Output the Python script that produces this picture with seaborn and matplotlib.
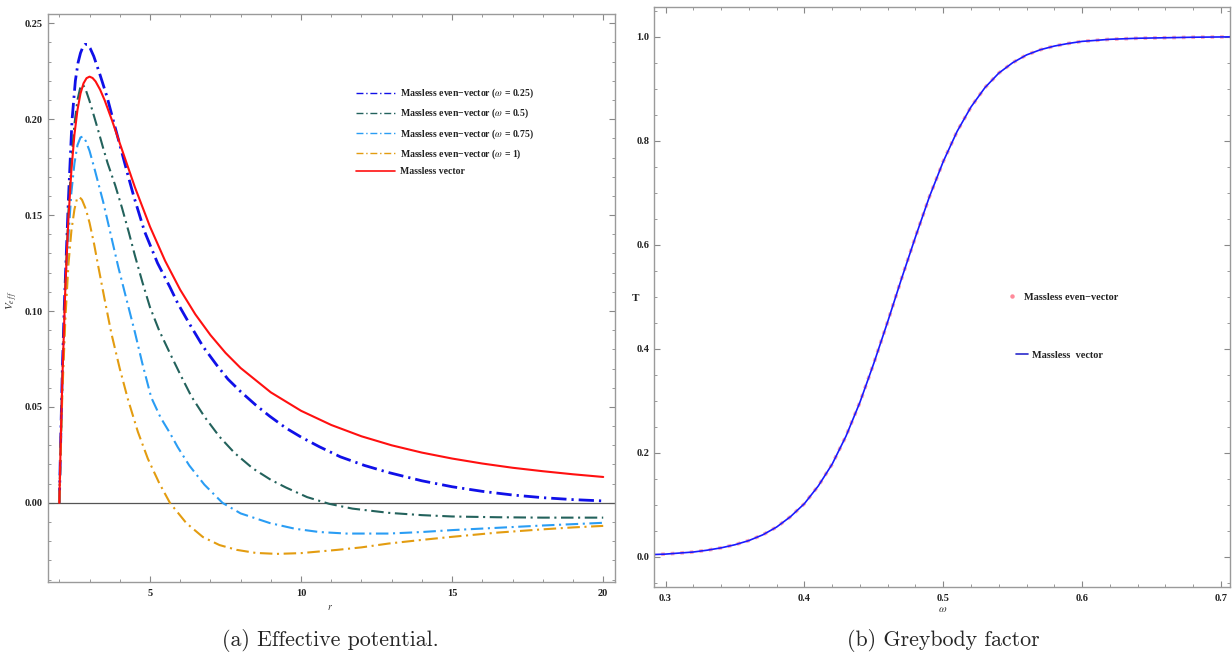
import numpy as np
import matplotlib
matplotlib.use('Agg')
import matplotlib.pyplot as plt
import seaborn as sns
from matplotlib.ticker import MultipleLocator, FormatStrFormatter
from matplotlib.lines import Line2D

# ---------------- data: (a) effective potential ----------------
r_vec = [2.0, 2.05, 2.1, 2.2, 2.3, 2.4, 2.5, 2.6, 2.7, 2.8, 2.9, 3.0, 3.1, 3.2, 3.35, 3.5,
         3.75, 4.0, 4.5, 5.0, 5.5, 6.0, 6.5, 7.0, 7.5, 8.0, 9.0, 10.0, 11.0, 12.0, 13.0, 14.0, 15.0,
         16.0, 17.0, 18.0, 19.0, 20.0]
v_vec = [0.0, 0.0348, 0.0648, 0.1127, 0.1479, 0.1736, 0.192, 0.2048, 0.2134, 0.2187, 0.2214,
         0.2222, 0.2215, 0.2197, 0.2154, 0.2099, 0.1991, 0.1875, 0.1646, 0.144, 0.1262, 0.1111,
         0.0983, 0.0875, 0.0782, 0.0703, 0.0576, 0.048, 0.0406, 0.0347, 0.0300, 0.0262, 0.0231,
         0.0205, 0.0183, 0.0165, 0.0149, 0.0135]

r_w025 = [2.0, 2.05, 2.1, 2.17, 2.3, 2.42, 2.53, 2.62, 2.7, 2.78, 2.85, 2.93, 3.02, 3.14, 3.35,
          3.58, 3.8, 4.02, 4.25, 4.46, 4.82, 5.25, 5.66, 5.92, 6.3, 6.76, 7.2, 7.58, 8.0, 8.5,
          8.96, 9.5, 10.0, 10.6, 11.3, 12.1, 12.9, 14.0, 15.0, 16.0, 17.0, 18.0, 19.0, 20.0]
v_w025 = [0.0, 0.036, 0.07, 0.105, 0.158, 0.1995, 0.220, 0.2295, 0.2345, 0.2377, 0.2390, 0.2390,
          0.2370, 0.2328, 0.2230, 0.2116, 0.1985, 0.1856, 0.172, 0.1600, 0.1415, 0.125, 0.1125,
          0.104, 0.0935, 0.0814, 0.0720, 0.0645, 0.0580, 0.0510, 0.0452, 0.0390, 0.0343, 0.0293,
          0.0240, 0.0195, 0.0158, 0.0115, 0.0084, 0.0060, 0.0041, 0.0027, 0.0017, 0.0010]

r_w05 = [2.0, 2.05, 2.1, 2.2, 2.3, 2.4, 2.5, 2.6, 2.7, 2.78, 2.86, 3.0, 3.15, 3.28, 3.45, 3.6,
         3.85, 4.07, 4.3, 4.5, 4.75, 5.0, 5.3, 5.66, 6.0, 6.37, 6.8, 7.3, 7.8, 8.4, 9.0, 9.5,
         10.2, 10.93, 11.7, 12.9, 14.0, 15.0, 16.5, 18.0, 20.0]
v_w05 = [0.0, 0.034, 0.066, 0.114, 0.151, 0.178, 0.1975, 0.2100, 0.2170, 0.2180, 0.2160, 0.2095,
         0.2015, 0.1945, 0.185, 0.177, 0.1655, 0.154, 0.141, 0.129, 0.115, 0.102, 0.090, 0.078,
         0.067, 0.0555, 0.045, 0.0345, 0.0260, 0.0180, 0.0120, 0.0080, 0.0030, -0.0005, -0.0030,
         -0.0052, -0.0064, -0.0071, -0.0075, -0.0077, -0.0077]

r_w075 = [2.0, 2.05, 2.1, 2.2, 2.3, 2.4, 2.5, 2.6, 2.7, 2.78, 2.88, 3.0, 3.15, 3.3, 3.45, 3.7,
          3.95, 4.2, 4.5, 4.75, 5.04, 5.35, 5.66, 5.92, 6.3, 6.8, 7.4, 8.0, 8.96, 9.8, 10.6,
          11.5, 12.9, 14.0, 15.0, 16.5, 18.0, 19.0, 20.0]
v_w075 = [0.0, 0.032, 0.062, 0.106, 0.139, 0.162, 0.177, 0.1865, 0.1905, 0.1910, 0.1885, 0.1835,
          0.175, 0.166, 0.157, 0.140, 0.123, 0.1075, 0.089, 0.0725, 0.0550, 0.0445, 0.0364,
          0.0290, 0.0195, 0.0095, 0.0, -0.0055, -0.0105, -0.0135, -0.0152, -0.0160, -0.0160,
          -0.0152, -0.0142, -0.0130, -0.0118, -0.0111, -0.0104]

r_w1 = [2.0, 2.05, 2.1, 2.2, 2.3, 2.4, 2.5, 2.58, 2.66, 2.75, 2.88, 3.0, 3.15, 3.28, 3.5, 3.72,
        4.0, 4.27, 4.6, 4.93, 5.3, 5.66, 6.2, 6.75, 7.3, 7.87, 8.5, 9.2, 10.0, 11.2, 12.0, 12.9,
        14.0, 15.0, 16.5, 18.0, 19.0, 20.0]
v_w1 = [0.0, 0.030, 0.057, 0.096, 0.124, 0.142, 0.153, 0.1583, 0.1595, 0.1580, 0.1530, 0.1460,
        0.1350, 0.1240, 0.1060, 0.0885, 0.0700, 0.0540, 0.0370, 0.0230, 0.0105, 0.0, -0.0105,
        -0.0178, -0.0220, -0.0245, -0.0261, -0.0266, -0.0262, -0.0245, -0.0232, -0.0212, -0.0193,
        -0.0177, -0.0155, -0.0138, -0.0128, -0.0120]

labels_a = ["Massless even\u2212vector ($\\omega$ = 0.25)",
            "Massless even\u2212vector ($\\omega$ = 0.5)",
            "Massless even\u2212vector ($\\omega$ = 0.75)",
            "Massless even\u2212vector ($\\omega$ = 1)",
            "Massless vector"]

# ---------------- data: (b) greybody factor ----------------
omega = [0.29, 0.30, 0.31, 0.32, 0.33, 0.34, 0.35, 0.36, 0.37, 0.38, 0.39, 0.40, 0.41, 0.42,
         0.43, 0.44, 0.45, 0.46, 0.47, 0.48, 0.49, 0.50, 0.51, 0.52, 0.53, 0.54, 0.55, 0.56,
         0.57, 0.58, 0.59, 0.60, 0.61, 0.62, 0.64, 0.66, 0.68, 0.70, 0.72]
T_vec = [0.004, 0.005, 0.007, 0.009, 0.0125, 0.017, 0.023, 0.031, 0.042, 0.057, 0.077, 0.102,
         0.136, 0.178, 0.232, 0.297, 0.372, 0.452, 0.535, 0.615, 0.692, 0.760, 0.818, 0.865,
         0.902, 0.930, 0.950, 0.965, 0.975, 0.982, 0.987, 0.991, 0.993, 0.995, 0.997, 0.998,
         0.999, 0.9995, 1.0]
T_even = [0.004, 0.005, 0.007, 0.009, 0.0125, 0.017, 0.023, 0.031, 0.042, 0.057, 0.077, 0.102,
          0.136, 0.178, 0.232, 0.297, 0.372, 0.452, 0.535, 0.615, 0.692, 0.760, 0.818, 0.865,
          0.902, 0.930, 0.950, 0.965, 0.975, 0.982, 0.987, 0.991, 0.993, 0.995, 0.997, 0.998,
          0.999, 0.9995, 1.0]
labels_b = ["Massless even\u2212vector", "Massless  vector"]

# ---------------- style ----------------
sns.set_style('ticks')
plt.rcParams['font.family'] = ['Liberation Serif', 'DejaVu Serif']
plt.rcParams['mathtext.fontset'] = 'stix'

W, H = 1232, 656
fig = plt.figure(figsize=(W / 100, H / 100), dpi=100)
ax1 = fig.add_axes([47.7 / W, 1 - 581.7 / H, (615 - 47.7) / W, (581.7 - 14.3) / H])
ax2 = fig.add_axes([654 / W, 1 - 586.7 / H, (1230 - 654) / W, (586.7 - 6.7) / H])

c_blue, c_teal, c_lblue, c_orange, c_red = '#1010e8', '#23625c', '#2a9df4', '#e39c10', '#ff1010'
dd = (0, (6.0, 2.2, 1.0, 2.2))
dd_b = (0, (5.5, 1.8, 0.8, 1.8))

ax1.axhline(0, color='#555555', lw=0.9, zorder=1)
sns.lineplot(x=r_w025, y=v_w025, ax=ax1, color=c_blue, lw=2.0, linestyle=dd_b, sort=False, estimator=None)
sns.lineplot(x=r_w05, y=v_w05, ax=ax1, color=c_teal, lw=1.5, linestyle=dd, sort=False, estimator=None)
sns.lineplot(x=r_w075, y=v_w075, ax=ax1, color=c_lblue, lw=1.5, linestyle=dd, sort=False, estimator=None)
sns.lineplot(x=r_w1, y=v_w1, ax=ax1, color=c_orange, lw=1.5, linestyle=dd, sort=False, estimator=None)
sns.lineplot(x=r_vec, y=v_vec, ax=ax1, color=c_red, lw=1.5, sort=False, estimator=None)

ax1.set_xlim(1.615, 20.39)
ax1.set_ylim(-0.0411, 0.2547)

dd_leg = (0, (5.0, 2.0, 1.0, 2.0))
handles_a = [Line2D([], [], color=c_blue, lw=1.0, linestyle=dd_leg),
             Line2D([], [], color=c_teal, lw=1.0, linestyle=dd_leg),
             Line2D([], [], color=c_lblue, lw=1.0, linestyle=dd_leg),
             Line2D([], [], color=c_orange, lw=1.0, linestyle=dd_leg),
             Line2D([], [], color=c_red, lw=1.2)]
leg = ax1.legend(handles_a, labels_a, loc='upper left', bbox_to_anchor=(352 / W, 1 - 83 / H),
                 bbox_transform=fig.transFigure, frameon=False, handlelength=4.0,
                 handletextpad=0.5, labelspacing=0.68, borderaxespad=0,
                 prop={'size': 7, 'weight': 'bold'})
for t in leg.get_texts():
    t.set_color('#222222')

# (b)
sns.lineplot(x=omega, y=T_even, ax=ax2, color='#ff8a9a', lw=2.6, linestyle=':', alpha=0.75,
             sort=False, estimator=None)
sns.lineplot(x=omega, y=T_vec, ax=ax2, color='#1a1aff', lw=1.2, sort=False, estimator=None)
ax2.set_xlim(0.2917, 0.7065)
ax2.set_ylim(-0.0577, 1.0577)

leg1 = ax2.legend([Line2D([], [], color='#ff8a9a', marker='o', ms=2.2, ls='none')], [labels_b[0]],
                  loc='center left', bbox_to_anchor=(1003 / W, 1 - 297 / H),
                  bbox_transform=fig.transFigure, frameon=False, handlelength=1.0,
                  handletextpad=0.6, borderaxespad=0, prop={'size': 7.4, 'weight': 'bold'})
ax2.add_artist(leg1)
leg2 = ax2.legend([Line2D([], [], color='#2a2acc', lw=1.2)], [labels_b[1]],
                  loc='center left', bbox_to_anchor=(1012 / W, 1 - 355 / H),
                  bbox_transform=fig.transFigure, frameon=False, handlelength=1.2,
                  handletextpad=0.3, borderaxespad=0, prop={'size': 7.4, 'weight': 'bold'})
for lg in (leg1, leg2):
    for t in lg.get_texts():
        t.set_color('#222222')

# axes cosmetics
for ax in (ax1, ax2):
    ax.set_xlabel('')
    ax.set_ylabel('')
    for s in ax.spines.values():
        s.set_visible(True)
        s.set_color('#9a9a9a')
        s.set_linewidth(1.0)
    ax.tick_params(which='both', direction='in', top=True, right=True, colors='#888888',
                   labelcolor='#222222', labelsize=7.5)
    ax.tick_params(which='major', length=4, width=0.8)
    ax.tick_params(which='minor', length=2, width=0.6)

ax1.xaxis.set_major_locator(MultipleLocator(5))
ax1.xaxis.set_minor_locator(MultipleLocator(1))
ax1.yaxis.set_major_locator(MultipleLocator(0.05))
ax1.yaxis.set_minor_locator(MultipleLocator(0.01))
ax1.yaxis.set_major_formatter(FormatStrFormatter('%.2f'))
ax1.xaxis.set_major_formatter(FormatStrFormatter('%d'))
ax2.xaxis.set_major_locator(MultipleLocator(0.1))
ax2.xaxis.set_minor_locator(MultipleLocator(0.02))
ax2.yaxis.set_major_locator(MultipleLocator(0.2))
ax2.yaxis.set_minor_locator(MultipleLocator(0.05))
ax2.yaxis.set_major_formatter(FormatStrFormatter('%.1f'))
ax2.xaxis.set_major_formatter(FormatStrFormatter('%.1f'))
for ax in (ax1, ax2):
    for lab in ax.get_xticklabels() + ax.get_yticklabels():
        lab.set_fontweight('bold')
    ax.tick_params(axis='x', pad=5)

# axis labels
fig.text(12 / W, 1 - 300 / H, '$V_{e\\,f\\,f}$', rotation=90, ha='center', va='center',
         fontsize=8, color='#333333')
fig.text(330 / W, 1 - 608 / H, '$r$', ha='center', va='center', fontsize=7, color='#333333')
fig.text(636 / W, 1 - 298 / H, 'T', ha='center', va='center', fontsize=8, fontweight='bold',
         color='#222222')
fig.text(943 / W, 1 - 610 / H, '$\\omega$', ha='center', va='center', fontsize=8, color='#333333')

# captions
fig.text(330 / W, 1 - 640 / H, '(a) Effective potential.', family='cmr10', fontsize=15.8,
         ha='center', va='center')
fig.text(943 / W, 1 - 640 / H, '(b) Greybody factor', family='cmr10', fontsize=15.8,
         ha='center', va='center')

fig.savefig('out.png', dpi=100)
